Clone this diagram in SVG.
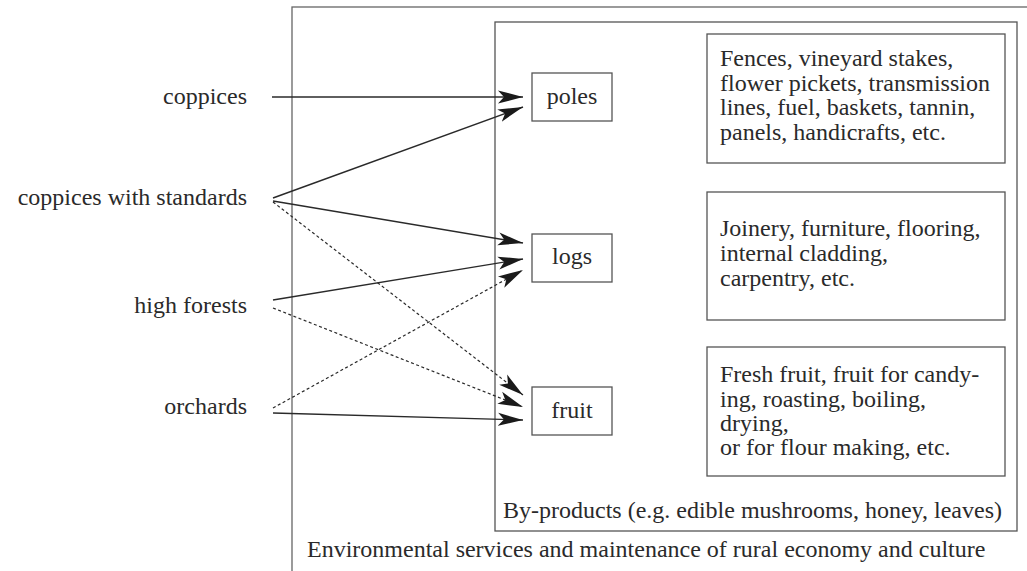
<svg xmlns="http://www.w3.org/2000/svg" width="1027" height="571" viewBox="0 0 1027 571">
<style>
  text { font-family: "Liberation Serif", "Times New Roman", serif; font-size: 24px; fill: #2a2a2a; }
  .box { fill: #fff; stroke: #555; stroke-width: 1.3; }
  .frame { fill: none; stroke: #555; stroke-width: 1.3; }
  .edge { fill: none; stroke: #2a2a2a; stroke-width: 1.4; marker-end: url(#arr); }
  .dash { stroke-dasharray: 3 2.5; stroke-width: 1.2; }
  .lbl { text-anchor: end; }
  .mid { text-anchor: middle; }
</style>
<defs>
  <marker id="arr" markerUnits="userSpaceOnUse" markerWidth="27" markerHeight="16" refX="25" refY="8" orient="auto" viewBox="0 0 27 16">
    <path d="M0,1.5 L25,8 L0,14.5 L6,8 z" fill="#1a1a1a"/>
  </marker>
</defs>
<rect width="1027" height="571" fill="#fff"/>

<g id="outer">
  <rect class="frame" x="292" y="7" width="800" height="620" style="stroke:#666"/>
  <text x="307" y="557">Environmental services and maintenance of rural economy and culture</text>
</g>
<g id="inner">
  <rect class="frame" x="495" y="22" width="522" height="509"/>
  <text x="503" y="518">By-products (e.g. edible mushrooms, honey, leaves)</text>
</g>

<g id="src-coppices"><text class="lbl" x="247" y="104">coppices</text></g>
<g id="src-cws"><text class="lbl" x="247" y="205">coppices with standards</text></g>
<g id="src-high"><text class="lbl" x="247" y="313">high forests</text></g>
<g id="src-orchards"><text class="lbl" x="247" y="414">orchards</text></g>

<g id="poles"><rect class="box" x="532" y="73" width="80" height="48"/><text class="mid" x="572" y="104">poles</text></g>
<g id="logs"><rect class="box" x="532" y="234" width="80" height="48"/><text class="mid" x="572" y="264">logs</text></g>
<g id="fruit"><rect class="box" x="532" y="387" width="80" height="48"/><text class="mid" x="572" y="418">fruit</text></g>

<g id="uses-poles">
  <rect class="box" x="707" y="34" width="298" height="129"/>
  <text x="720" y="66">Fences, vineyard stakes,</text>
  <text x="720" y="91">flower pickets, transmission</text>
  <text x="720" y="115">lines, fuel, baskets, tannin,</text>
  <text x="720" y="140">panels, handicrafts, etc.</text>
</g>
<g id="uses-logs">
  <rect class="box" x="707" y="192" width="298" height="128"/>
  <text x="720" y="236">Joinery, furniture, flooring,</text>
  <text x="720" y="261">internal cladding,</text>
  <text x="720" y="286">carpentry, etc.</text>
</g>
<g id="uses-fruit">
  <rect class="box" x="707" y="347" width="298" height="129"/>
  <text x="720" y="382">Fresh fruit, fruit for candy-</text>
  <text x="720" y="407">ing, roasting, boiling,</text>
  <text x="720" y="431">drying,</text>
  <text x="720" y="455">or for flour making, etc.</text>
</g>

<g id="connectors">
  <line class="edge" x1="272" y1="97" x2="523" y2="97"/>
  <line class="edge" x1="273" y1="198" x2="523" y2="107"/>
  <line class="edge" x1="273" y1="201" x2="523" y2="243"/>
  <line class="edge dash" x1="273" y1="202" x2="523" y2="395"/>
  <line class="edge" x1="273" y1="300" x2="523" y2="259"/>
  <line class="edge dash" x1="273" y1="308" x2="523" y2="407"/>
  <line class="edge dash" x1="273" y1="408" x2="523" y2="270"/>
  <line class="edge" x1="273" y1="413" x2="523" y2="420"/>
</g>
</svg>
